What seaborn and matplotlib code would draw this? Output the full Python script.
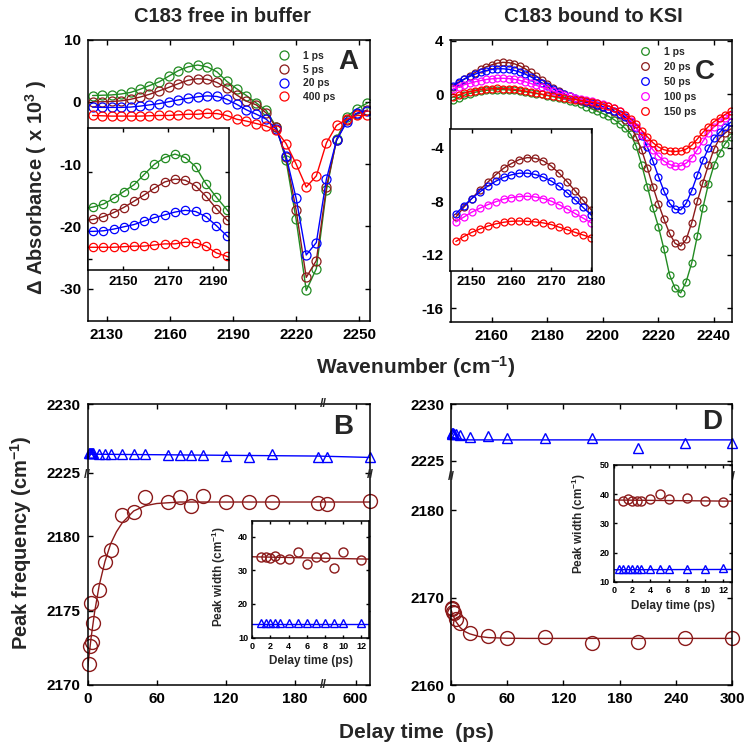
import numpy as np
import matplotlib
matplotlib.use("Agg")
import matplotlib.pyplot as plt
import matplotlib.transforms as mtransforms
from matplotlib.lines import Line2D
from matplotlib.ticker import FormatStrFormatter
import seaborn as sns

sns.set_theme(style="ticks")
plt.rcParams["font.family"] = ["Liberation Sans", "DejaVu Sans"]
plt.rcParams["font.weight"] = "bold"
plt.rcParams["axes.labelweight"] = "bold"
plt.rcParams["mathtext.fontset"] = "custom"
plt.rcParams["mathtext.rm"] = "Liberation Sans:bold"
plt.rcParams["mathtext.bf"] = "Liberation Sans:bold"
plt.rcParams["mathtext.it"] = "Liberation Sans:bold:italic"
plt.rcParams["mathtext.default"] = "bf"

GREEN, BROWN, BLUE, MAGENTA, RED = "#228b22", "#8b1a1a", "#0000ff", "#ff00ff", "#ff0000"

# %% panel A: C183 free in buffer (x 10^3 absorbance)
wn_a = [2123.2, 2127.7, 2132.2, 2136.7, 2141.2, 2145.7, 2150.2, 2154.8, 2159.3, 2163.9,
        2168.5, 2173.1, 2177.7, 2182.3, 2186.9, 2191.6, 2196.3, 2201.0, 2205.7, 2210.4,
        2215.1, 2219.9, 2224.7, 2229.5, 2234.3, 2239.1, 2244.0, 2248.9, 2253.8]
a_1ps = [1.0, 1.05, 1.1, 1.25, 1.5, 2.0, 2.6, 3.2, 4.1, 5.0, 5.6, 5.9, 5.6, 4.8, 3.3,
         2.1, 1.0, -0.2, -1.4, -4.0, -9.4, -18.9, -30.3, -26.8, -14.2, -6.0, -2.4, -1.1, -0.2]
a_5ps = [0.0, 0.0, 0.05, 0.15, 0.4, 0.75, 1.2, 1.75, 2.3, 2.9, 3.45, 3.7, 3.6, 3.1, 2.2,
         1.1, 0.1, -0.5, -1.8, -4.1, -8.9, -17.4, -28.2, -25.5, -13.7, -6.2, -3.0, -1.9, -1.3]
a_20ps = [-0.85, -0.9, -0.9, -0.9, -0.85, -0.7, -0.5, -0.3, 0.0, 0.3, 0.55, 0.8, 0.95, 0.85, 0.4,
          -0.4, -1.3, -2.0, -2.8, -4.4, -8.7, -15.5, -24.6, -22.6, -12.4, -6.2, -3.2, -1.8, -1.5]
a_400ps = [-2.2, -2.25, -2.3, -2.3, -2.3, -2.3, -2.25, -2.2, -2.2, -2.1, -2.0, -2.0, -1.85, -1.9, -2.2,
           -2.8, -3.1, -3.5, -3.9, -4.6, -6.7, -10.0, -13.7, -11.9, -6.6, -3.8, -2.8, -2.2, -2.2]
labels_a = ["1 ps", "5 ps", "20 ps", "400 ps"]
colors_a = [GREEN, BROWN, BLUE, RED]

# %% panel C: C183 bound to KSI
wn_c = [2146, 2148, 2150, 2152, 2154, 2156, 2158, 2160, 2162, 2164, 2166, 2168, 2170,
        2172, 2174, 2176, 2178, 2180, 2182, 2184, 2186, 2188, 2190, 2192, 2194, 2196,
        2198, 2200, 2202, 2204, 2206, 2208, 2210, 2212, 2214, 2216, 2218, 2220, 2222,
        2224, 2226, 2228, 2230, 2232, 2234, 2236, 2238, 2240, 2242, 2244, 2246]
c_1ps = [-0.45, -0.25, -0.08, 0.05, 0.15, 0.23, 0.29, 0.32, 0.34, 0.34, 0.32, 0.29, 0.24,
         0.18, 0.12, 0.05, -0.02, -0.10, -0.18, -0.27, -0.37, -0.48, -0.60, -0.75, -0.92, -1.10,
         -1.28, -1.45, -1.65, -1.90, -2.20, -2.55, -3.00, -3.90, -5.30, -6.90, -8.50, -9.90, -11.60,
         -13.50, -14.50, -14.85, -14.00, -12.60, -10.60, -8.50, -6.70, -5.30, -4.40, -3.70, -3.20]
c_20ps = [0.55, 0.85, 1.12, 1.38, 1.62, 1.85, 2.05, 2.20, 2.32, 2.38, 2.36, 2.28, 2.12,
          1.90, 1.64, 1.36, 1.07, 0.78, 0.50, 0.25, 0.03, -0.17, -0.34, -0.49, -0.62, -0.74,
          -0.86, -0.98, -1.12, -1.30, -1.55, -1.90, -2.40, -3.20, -4.20, -5.50, -6.90, -8.20, -9.35,
          -10.40, -11.15, -11.35, -10.85, -9.60, -8.00, -6.60, -5.30, -4.10, -3.30, -2.90, -2.60]
c_50ps = [0.65, 0.90, 1.12, 1.32, 1.50, 1.65, 1.77, 1.85, 1.90, 1.90, 1.86, 1.78, 1.66,
          1.50, 1.30, 1.08, 0.85, 0.62, 0.40, 0.19, 0.00, -0.17, -0.32, -0.45, -0.57, -0.68,
          -0.80, -0.93, -1.08, -1.25, -1.45, -1.72, -2.05, -2.50, -3.10, -3.95, -5.00, -6.15, -7.25,
          -8.15, -8.60, -8.65, -8.15, -7.20, -6.05, -4.95, -4.05, -3.30, -2.85, -2.45, -2.10]
c_100ps = [0.40, 0.55, 0.70, 0.82, 0.93, 1.02, 1.10, 1.15, 1.18, 1.19, 1.17, 1.12, 1.04,
           0.93, 0.80, 0.66, 0.52, 0.38, 0.24, 0.10, -0.03, -0.15, -0.26, -0.36, -0.45, -0.54,
           -0.64, -0.75, -0.88, -1.05, -1.28, -1.58, -1.98, -2.48, -3.05, -3.62, -4.15, -4.62, -5.00,
           -5.25, -5.38, -5.35, -5.15, -4.75, -4.15, -3.52, -2.92, -2.45, -2.08, -1.78, -1.52]
c_150ps = [-0.20, -0.05, 0.08, 0.18, 0.27, 0.34, 0.39, 0.42, 0.43, 0.42, 0.40, 0.37, 0.32,
           0.24, 0.16, 0.08, 0.00, -0.08, -0.15, -0.22, -0.28, -0.34, -0.40, -0.46, -0.52, -0.60,
           -0.68, -0.78, -0.90, -1.05, -1.25, -1.52, -1.85, -2.25, -2.72, -3.18, -3.62, -3.95, -4.15,
           -4.25, -4.28, -4.24, -4.10, -3.82, -3.35, -2.85, -2.42, -2.06, -1.78, -1.52, -1.28]
labels_c = ["1 ps", "20 ps", "50 ps", "100 ps", "150 ps"]
colors_c = [GREEN, BROWN, BLUE, MAGENTA, RED]

# %% panel B: peak frequency vs delay, free
delay_b = [1, 2, 3, 4, 5, 10, 15, 20, 30, 40, 50, 70, 80, 90, 100, 120, 140, 160, 200, 400, 700]
freq_b_low = [2171.4, 2172.6, 2175.5, 2172.9, 2174.2, 2176.4, 2178.3, 2179.1, 2181.4, 2181.6, 2182.65,
              2182.3, 2182.65, 2182.0, 2182.7, 2182.3, 2182.3, 2182.3, 2182.25, 2182.2, 2182.35]
freq_b_high = [2226.4, 2226.4, 2226.4, 2226.4, 2226.4, 2226.38, 2226.38, 2226.36, 2226.35, 2226.35, 2226.35,
               2226.28, 2226.25, 2226.28, 2226.28, 2226.2, 2226.12, 2226.35, 2226.15, 2226.12, 2226.1]
fit_t_b = [0, 3, 6, 10, 15, 20, 25, 30, 40, 50, 60, 80, 100, 200, 400, 700]
fit_b_low = [2171.2, 2173.2, 2174.9, 2176.7, 2178.3, 2179.5, 2180.3, 2180.9, 2181.7, 2182.05, 2182.2,
             2182.3, 2182.3, 2182.3, 2182.3, 2182.3]
fit_t_b_high = [0, 200, 700]
fit_b_high = [2226.34, 2226.2, 2226.1]

width_t_b = [1, 1.5, 2, 2.5, 3, 4, 5, 6, 7, 8, 9, 10, 12]
width_b_low = [33.8, 33.8, 33.5, 34.1, 33.3, 33.3, 35.3, 31.9, 34.0, 33.8, 30.8, 35.3, 33.0]
width_b_high = [14.5, 14.5, 14.4, 14.5, 14.4, 14.4, 14.4, 14.4, 14.4, 14.4, 14.4, 14.4, 14.4]
width_fit_t = [0, 13]
width_fit_b_low = [34.0, 33.3]
width_fit_b_high = [14.1, 14.1]

# %% panel D: peak frequency vs delay, bound
delay_d = [1, 1.5, 2, 3, 5, 10, 20, 40, 60, 100, 150, 200, 250, 300]
freq_d_low = [2168.8, 2168.65, 2168.4, 2168.2, 2167.6, 2167.05, 2165.9, 2165.6, 2165.35, 2165.5,
              2164.8, 2164.95, 2165.4, 2165.35]
freq_d_high = [2227.4, 2227.45, 2227.45, 2227.4, 2227.35, 2227.3, 2227.1, 2227.15, 2227.0, 2227.0,
               2227.0, 2226.1, 2226.55, 2226.55]
fit_t_d = [0, 2, 5, 10, 15, 20, 30, 40, 60, 80, 300]
fit_d_low = [2168.6, 2168.0, 2167.3, 2166.55, 2166.1, 2165.85, 2165.55, 2165.42, 2165.35, 2165.33, 2165.33]
fit_t_d_high = [0, 10, 20, 300]
fit_d_high = [2227.1, 2226.9, 2226.85, 2226.85]

width_t_d_low = [1, 1.5, 2, 2.5, 3, 4, 5, 6, 8, 10, 12]
width_d_low = [37.5, 38.4, 37.8, 37.5, 37.8, 38.4, 40.0, 38.4, 38.6, 37.5, 37.3]
width_t_d_high = [0.5, 1, 1.5, 2, 2.5, 3, 4, 5, 6, 8, 10, 12]
width_d_high = [14.2, 14.2, 14.2, 14.2, 14.2, 14.2, 14.2, 14.3, 14.3, 14.3, 14.5, 14.7]
width_fit_d_low = [38.0, 37.6]
width_fit_d_high = [14.1, 14.2]

# %%
W = H = 751.0


def rect(l, t, r, b):
    return [l / W, 1 - b / H, (r - l) / W, (b - t) / H]


def style(ax, size=11, length=3.6, pad=5):
    ax.set_facecolor("white")
    ax.tick_params(direction="in", top=True, right=True, length=length, width=1.0,
                   labelsize=size, pad=pad, colors="black")
    for s in ax.spines.values():
        s.set_visible(True)
        s.set_linewidth(1.1)
        s.set_color("black")
    ax.xaxis.set_major_formatter(FormatStrFormatter("%g"))
    ax.yaxis.set_major_formatter(FormatStrFormatter("%g"))


def spectrum(ax, x, y, c, ms):
    sns.lineplot(x=x, y=y, ax=ax, color=c, lw=1.0, marker="o", markersize=ms,
                 markerfacecolor="none", markeredgecolor=c, markeredgewidth=0.9,
                 estimator=None, sort=False)


def points(ax, x, y, c, marker, ms):
    sns.lineplot(x=x, y=y, ax=ax, color=c, linestyle="none", marker=marker, markersize=ms,
                 markerfacecolor="none", markeredgecolor=c, markeredgewidth=1.0,
                 estimator=None, sort=False, clip_on=False)


def fitline(ax, x, y, c):
    sns.lineplot(x=x, y=y, ax=ax, color=c, lw=1.0, estimator=None, sort=False)


def make_break(lo, hi, k):
    def fwd(v):
        v = np.asarray(v, dtype=float)
        return np.minimum(v, lo) + np.maximum(v - hi, 0) * k

    def inv(v):
        v = np.asarray(v, dtype=float)
        return np.where(v <= lo, v, hi + (v - lo) / k)
    return fwd, inv


def break_marks(ax, xgap=None, ygap=None):
    if ygap is not None:
        tr = mtransforms.blended_transform_factory(ax.transAxes, ax.transData)
        for xx in (0, 1):
            ax.text(xx, ygap, "//", transform=tr, ha="center", va="center", fontsize=9,
                    clip_on=False, zorder=6)
    if xgap is not None:
        tr = mtransforms.blended_transform_factory(ax.transData, ax.transAxes)
        for yy in (0, 1):
            ax.text(xgap, yy, "//", transform=tr, ha="center", va="center", fontsize=9,
                    clip_on=False, zorder=6)


def legend(ax, labels, colors, ms, anchor, spacing):
    handles = [Line2D([], [], ls="none", marker="o", ms=ms, mfc="none", mec=c, mew=0.9)
               for c in colors]
    ax.legend(handles, labels, loc="upper left", bbox_to_anchor=anchor, frameon=False,
              fontsize=7.5, handlelength=1.0, handletextpad=1.3, labelspacing=spacing,
              borderpad=0, borderaxespad=0)


fig = plt.figure(figsize=(7.51, 7.51), dpi=100)

# ---- A
axA = fig.add_axes(rect(88, 39.5, 370, 321))
for vals, c in zip([a_1ps, a_5ps, a_20ps, a_400ps], colors_a):
    spectrum(axA, wn_a, vals, c, 6.5)
style(axA)
axA.set_xlim(2121, 2255)
axA.set_ylim(-35.2, 10)
axA.set_xticks([2130, 2160, 2190, 2220, 2250])
axA.set_yticks([10, 0, -10, -20, -30])
axA.set_xlabel("")
axA.set_ylabel("Δ Absorbance ( x 10$^{3}$ )", fontsize=14.5)
axA.yaxis.set_label_coords(-0.14, 0.476)
legend(axA, labels_a, colors_a, 6.5, (0.677, 0.96), 0.36)

insA = fig.add_axes(rect(88, 128, 229, 270))
for vals, c in zip([a_1ps, a_5ps, a_20ps, a_400ps], colors_a):
    spectrum(insA, wn_a, vals, c, 6.0)
style(insA, size=9.5, length=3, pad=4)
insA.set_xlim(2134.3, 2197.2)
insA.set_ylim(-4.3, 8.2)
insA.set_xticks([2150, 2170, 2190])
insA.set_yticks([-3.3, 4.3])
insA.set_yticklabels([])
insA.set_xlabel("")
insA.set_ylabel("")

# ---- C
axC = fig.add_axes(rect(450.5, 40, 732.3, 321.7))
for vals, c in zip([c_1ps, c_20ps, c_50ps, c_100ps, c_150ps], colors_c):
    spectrum(axC, wn_c, vals, c, 5.0)
style(axC)
axC.set_xlim(2145.1, 2246.6)
axC.set_ylim(-17.0, 4.05)
axC.set_xticks([2160, 2180, 2200, 2220, 2240])
axC.set_yticks([4, 0, -4, -8, -12, -16])
axC.set_xlabel("")
axC.set_ylabel("")
legend(axC, labels_c, colors_c, 5.5, (0.673, 0.975), 0.48)

insC = fig.add_axes(rect(450.3, 129.3, 591.7, 270.7))
for vals, c in zip([c_20ps, c_50ps, c_100ps, c_150ps], colors_c[1:]):
    spectrum(insC, wn_c, vals, c, 5.0)
style(insC, size=9.5, length=3, pad=4)
insC.set_xlim(2144.6, 2180.2)
insC.set_ylim(-1.1, 3.25)
insC.set_xticks([2150, 2160, 2170, 2180])
insC.set_yticks([])
insC.set_xlabel("")
insC.set_ylabel("")

# ---- B
axB = fig.add_axes(rect(87.7, 404, 370, 685))
fitline(axB, fit_t_b_high, fit_b_high, BLUE)
fitline(axB, fit_t_b, fit_b_low, BROWN)
points(axB, delay_b, freq_b_high, BLUE, "^", 7.5)
points(axB, delay_b, freq_b_low, BROWN, "o", 10)
fx, ix = make_break(205, 374, 0.1232)
fy, iy = make_break(2184.1, 2224.8, 0.921)
axB.set_xscale("function", functions=(fx, ix))
axB.set_yscale("function", functions=(fy, iy))
style(axB)
axB.set_xlim(0, 702)
axB.set_ylim(2170, 2230)
axB.set_xticks([0, 60, 120, 180, 600])
axB.set_yticks([2170, 2175, 2180, 2225, 2230])
axB.set_xlabel("")
axB.set_ylabel("Peak frequency (cm$^{-1}$)", fontsize=14.5)
axB.yaxis.set_label_coords(-0.19, 0.505)
break_marks(axB, xgap=300, ygap=2200)

insB = fig.add_axes(rect(252.3, 520.7, 369.3, 637.7))
fitline(insB, width_fit_t, width_fit_b_high, BLUE)
fitline(insB, width_fit_t, width_fit_b_low, BROWN)
points(insB, width_t_b, width_b_high, BLUE, "^", 5.5)
points(insB, width_t_b, width_b_low, BROWN, "o", 6.5)
style(insB, size=6.5, length=2.5, pad=3)
insB.set_xlim(0, 12.9)
insB.set_ylim(10, 44.7)
insB.set_xticks([0, 2, 4, 6, 8, 10, 12])
insB.set_yticks([10, 20, 30, 40])
insB.set_xlabel("Delay time (ps)", fontsize=8.5, labelpad=3)
insB.set_ylabel("Peak width (cm$^{-1}$)", fontsize=8.5)
insB.yaxis.set_label_coords(-0.205, 0.52)

# ---- D
axD = fig.add_axes(rect(451, 404, 732, 685))
fitline(axD, fit_t_d_high, fit_d_high, BLUE)
fitline(axD, fit_t_d, fit_d_low, BROWN)
points(axD, delay_d, freq_d_high, BLUE, "^", 7.5)
points(axD, delay_d, freq_d_low, BROWN, "o", 10)
fyd, iyd = make_break(2183.8, 2223.6, 1.303)
axD.set_yscale("function", functions=(fyd, iyd))
style(axD)
axD.set_xlim(0, 300)
axD.set_ylim(2160, 2230)
axD.set_xticks([0, 60, 120, 180, 240, 300])
axD.set_yticks([2160, 2170, 2180, 2225, 2230])
axD.set_xlabel("")
axD.set_ylabel("")
break_marks(axD, ygap=2200)

insD = fig.add_axes(rect(614, 465, 731.7, 581.7))
fitline(insD, width_fit_t, width_fit_d_high, BLUE)
fitline(insD, width_fit_t, width_fit_d_low, BROWN)
points(insD, width_t_d_high, width_d_high, BLUE, "^", 5.5)
points(insD, width_t_d_low, width_d_low, BROWN, "o", 6.5)
style(insD, size=6.5, length=2.5, pad=3)
insD.set_xlim(0, 12.93)
insD.set_ylim(10, 50)
insD.set_xticks([0, 2, 4, 6, 8, 10, 12])
insD.set_yticks([10, 20, 30, 40, 50])
insD.set_xlabel("Delay time (ps)", fontsize=8.5, labelpad=4)
insD.set_ylabel("Peak width (cm$^{-1}$)", fontsize=8.5)
insD.yaxis.set_label_coords(-0.225, 0.5)

# ---- figure texts
fig.text(223 / W, 1 - 17 / H, "C183 free in buffer", ha="center", va="center", fontsize=14.5)
fig.text(593 / W, 1 - 17 / H, "C183 bound to KSI", ha="center", va="center", fontsize=14.5)
fig.text(416 / W, 1 - 367 / H, "Wavenumber (cm$^{-1}$)", ha="center", va="center", fontsize=15)
fig.text(416 / W, 1 - 732 / H, "Delay time  (ps)", ha="center", va="center", fontsize=15)
for letter, (px, py) in {"A": (348.3, 61.7), "C": (705, 71.7),
                         "B": (343.3, 426.7), "D": (711.7, 421.7)}.items():
    fig.text(px / W, 1 - py / H, letter, ha="center", va="center", fontsize=20)

fig.savefig("out.png", dpi=100)
